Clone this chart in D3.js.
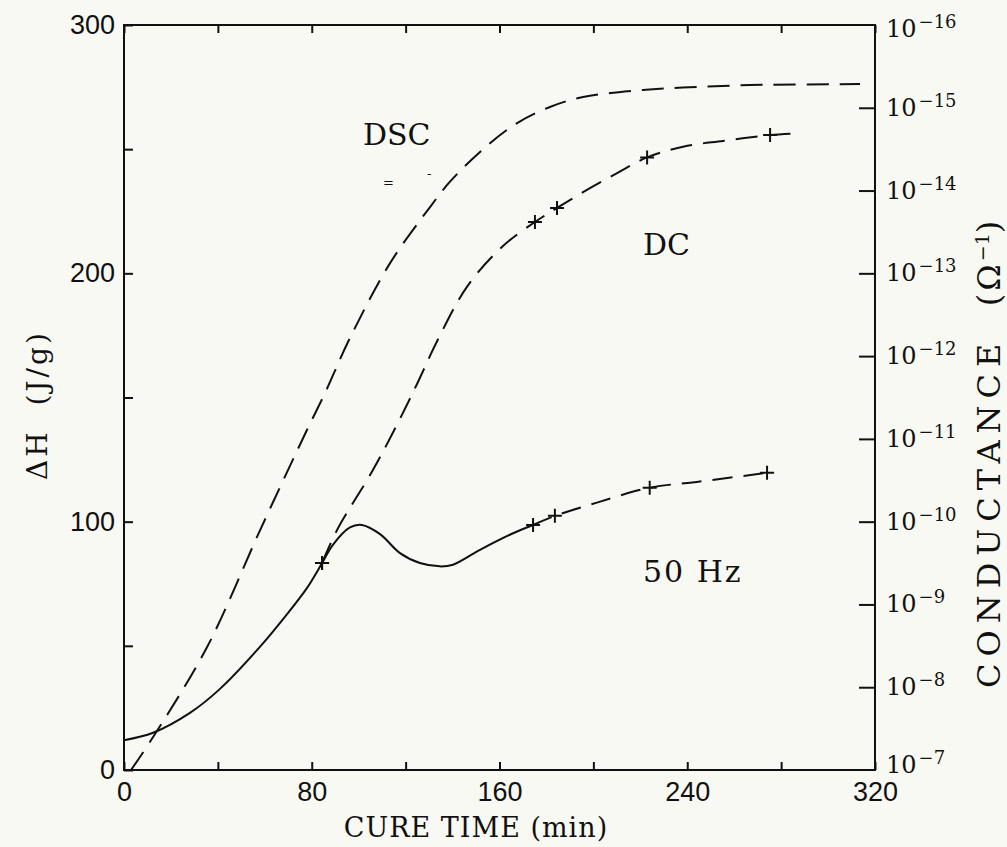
<!DOCTYPE html>
<html>
<head>
<meta charset="utf-8">
<script src="https://cdn.jsdelivr.net/npm/d3@7"></script>
<style>
  body { margin: 0; background: #f9f9f4; }
  svg { display: block; background: #f9f9f4; }
  .tick text { font-family: "Liberation Sans", sans-serif; font-size: 27px; fill: #111; }
  .tick line { stroke: #111; stroke-width: 2px; }
  .serifText { font-family: "DejaVu Serif", serif; fill: #111; white-space: pre; }
</style>
</head>
<body>
<script>
/********************************************************/
// values
// DSC heat of reaction (left axis, J/g)
const dscTime = [3, 12.4, 35.4, 58, 78, 85.5, 96.3, 113.3, 130.4, 139, 153, 167.5, 181.5, 195.6, 221, 238, 266.7, 313.6];
const dscHeat = [0, 13.3, 49.5, 96.6, 137, 151.5, 174, 204, 226.7, 237, 250, 260.5, 267, 271, 273.8, 274.8, 275.8, 276.2];

// 50 Hz conductance, log10 of S (right axis) - solid part then dashed part
const hzSolidTime = [0, 12.4, 28.1, 40.9, 58, 69.4, 78, 84.4, 89, 96.3, 101.3, 109.1, 117.6, 126.1, 134.6, 140.2, 151.7, 165.8, 174.3];
const hzSolidLogG = [-7.36, -7.45, -7.69, -7.98, -8.49, -8.88, -9.20, -9.50, -9.72, -9.93, -9.96, -9.85, -9.62, -9.50, -9.46, -9.48, -9.66, -9.86, -9.96];
const hzDashTime = [174.3, 183.6, 201.5, 224, 244, 274];
const hzDashLogG = [-9.96, -10.07, -10.23, -10.41, -10.48, -10.59];
const hzMarkTime = [84.4, 174.3, 183.6, 224, 274];
const hzMarkLogG = [-9.50, -9.96, -10.07, -10.41, -10.59];

// DC conductance, log10 of S
const dcTime = [84.4, 90.8, 106, 116.3, 124.8, 133.4, 146.2, 161.5, 175.1, 184.5, 195.6, 210.1, 222.9, 238.2, 255.2, 275.3, 286.8];
const dcLogG = [-9.50, -9.90, -10.62, -11.17, -11.66, -12.18, -12.84, -13.33, -13.62, -13.79, -13.98, -14.21, -14.40, -14.53, -14.60, -14.67, -14.69];
const dcMarkTime = [84.4, 175.1, 184.5, 222.9, 275.3];
const dcMarkLogG = [-9.50, -13.62, -13.79, -14.40, -14.67];

// ticks
const timeTicks = [0, 40, 80, 120, 160, 200, 240, 280, 320];
const timeLabels = [0, 80, 160, 240, 320];
const heatTicks = [0, 50, 100, 150, 200, 250, 300];
const heatLabels = [0, 100, 200, 300];
const condExponents = [-7, -8, -9, -10, -11, -12, -13, -14, -15, -16];
/********************************************************/
const svgWidth = 1007;
const svgHeight = 847;
const chartMargin = { top: 25, right: 132, bottom: 77, left: 124 };
const chartWidth = svgWidth - chartMargin.left - chartMargin.right;
const chartHeight = svgHeight - chartMargin.top - chartMargin.bottom;

const svg = d3.select("body").append("svg").attr("width", svgWidth).attr("height", svgHeight);
const chartGroup = svg.append("g")
  .attr("transform", `translate(${chartMargin.left}, ${chartMargin.top})`);
/********************************************************/
const xScale = d3.scaleLinear().domain([0, 320]).range([0, chartWidth]);
const yHeat = d3.scaleLinear().domain([0, 300]).range([chartHeight, 0]);
const yCond = d3.scaleLog().domain([1e-7, 1e-16]).range([chartHeight, 0]);

// axes, ticks point inward
const bottomAxis = d3.axisBottom(xScale).tickValues(timeTicks).tickSizeInner(-8).tickSizeOuter(0)
  .tickPadding(12).tickFormat((d) => (timeLabels.includes(d) ? d : ""));
const topAxis = d3.axisTop(xScale).tickValues(timeTicks).tickSizeInner(-8).tickSizeOuter(0).tickFormat("");
const leftAxis = d3.axisLeft(yHeat).tickValues(heatTicks).tickSizeInner(-9).tickSizeOuter(0)
  .tickPadding(9).tickFormat((d) => (heatLabels.includes(d) ? d : ""));
const rightAxis = d3.axisRight(yCond)
  .tickValues(condExponents.slice(1, -1).map((e) => Math.pow(10, e)))
  .tickSizeInner(-16).tickSizeOuter(0).tickFormat("");

chartGroup.append("g").attr("transform", `translate(0, ${chartHeight})`).call(bottomAxis);
chartGroup.append("g").call(topAxis);
chartGroup.append("g").call(leftAxis);
chartGroup.append("g").attr("transform", `translate(${chartWidth}, 0)`).call(rightAxis);
chartGroup.selectAll(".domain").remove();

chartGroup.append("rect")
  .attr("width", chartWidth)
  .attr("height", chartHeight)
  .attr("fill", "none")
  .attr("stroke", "#111")
  .attr("stroke-width", 2);

// right tick labels 10^-n
const condLabels = chartGroup.selectAll(".condLabel")
  .data(condExponents)
  .enter()
  .append("text")
  .classed("serifText", true)
  .attr("x", chartWidth + 11)
  .attr("y", (d) => yCond(Math.pow(10, d)) + (d === -7 ? 3 : d === -16 ? 12 : 8));
condLabels.append("tspan").attr("font-size", "24px").text("10");
condLabels.append("tspan").attr("font-size", "18px").attr("dx", 2).attr("dy", -9)
  .text((d) => "\u2212" + Math.abs(d));
/********************************************************/
// curves
const heatLine = d3.line().curve(d3.curveCatmullRom.alpha(0.5))
  .x((d) => xScale(d[0])).y((d) => yHeat(d[1]));
const condLine = d3.line().curve(d3.curveCatmullRom.alpha(0.5))
  .x((d) => xScale(d[0])).y((d) => yCond(Math.pow(10, d[1])));

chartGroup.append("path")
  .attr("d", heatLine(d3.zip(dscTime, dscHeat)))
  .attr("fill", "none").attr("stroke", "#111").attr("stroke-width", 2)
  .attr("stroke-dasharray", "22,11");

chartGroup.append("path")
  .attr("d", condLine(d3.zip(hzSolidTime, hzSolidLogG)))
  .attr("fill", "none").attr("stroke", "#111").attr("stroke-width", 2);

chartGroup.append("path")
  .attr("d", condLine(d3.zip(hzDashTime, hzDashLogG)))
  .attr("fill", "none").attr("stroke", "#111").attr("stroke-width", 2)
  .attr("stroke-dasharray", "20,11");

chartGroup.append("path")
  .attr("d", condLine(d3.zip(dcTime, dcLogG)))
  .attr("fill", "none").attr("stroke", "#111").attr("stroke-width", 2)
  .attr("stroke-dasharray", "22,11");

// plus markers
const marks = d3.zip(hzMarkTime, hzMarkLogG).concat(d3.zip(dcMarkTime, dcMarkLogG));
chartGroup.selectAll(".plusMark")
  .data(marks)
  .enter()
  .append("path")
  .classed("plusMark", true)
  .attr("transform", (d) => `translate(${xScale(d[0])}, ${yCond(Math.pow(10, d[1]))})`)
  .attr("d", "M-7,0H7M0,-7V7")
  .attr("stroke", "#111")
  .attr("stroke-width", 2);
/********************************************************/
// annotations
svg.append("text").classed("serifText", true).attr("x", 363).attr("y", 145)
  .attr("font-size", "30px").text("DSC");
svg.append("text").classed("serifText", true).attr("x", 643).attr("y", 255)
  .attr("font-size", "30px").text("DC");
svg.append("text").classed("serifText", true).attr("x", 643).attr("y", 582)
  .attr("font-size", "30px").attr("letter-spacing", "2px").text("50 Hz");
svg.append("text").classed("serifText", true).attr("x", 383).attr("y", 187)
  .attr("font-size", "13px").text("=");
svg.append("text").classed("serifText", true).attr("x", 427).attr("y", 178)
  .attr("font-size", "13px").text("-");

// axis titles
svg.append("text").classed("serifText", true)
  .attr("x", 476).attr("y", 837)
  .attr("text-anchor", "middle")
  .attr("font-size", "27px")
  .attr("letter-spacing", "1px")
  .text("CURE TIME (min)");

svg.append("text").classed("serifText", true)
  .attr("transform", "translate(47, 480) rotate(-90)")
  .attr("font-size", "28px")
  .attr("letter-spacing", "3px")
  .text("\u0394H  (J/g)");

const condTitle = svg.append("text").classed("serifText", true)
  .attr("transform", "translate(1000, 688) rotate(-90)")
  .attr("font-size", "32px");
condTitle.append("tspan").attr("letter-spacing", "7px").text("CONDUCTANCE ");
condTitle.append("tspan").attr("letter-spacing", "3px").text(" (\u03A9");
condTitle.append("tspan").attr("font-size", "19px").attr("dy", -11).text("\u22121");
condTitle.append("tspan").attr("dy", 11).text(")");
</script>
</body>
</html>
